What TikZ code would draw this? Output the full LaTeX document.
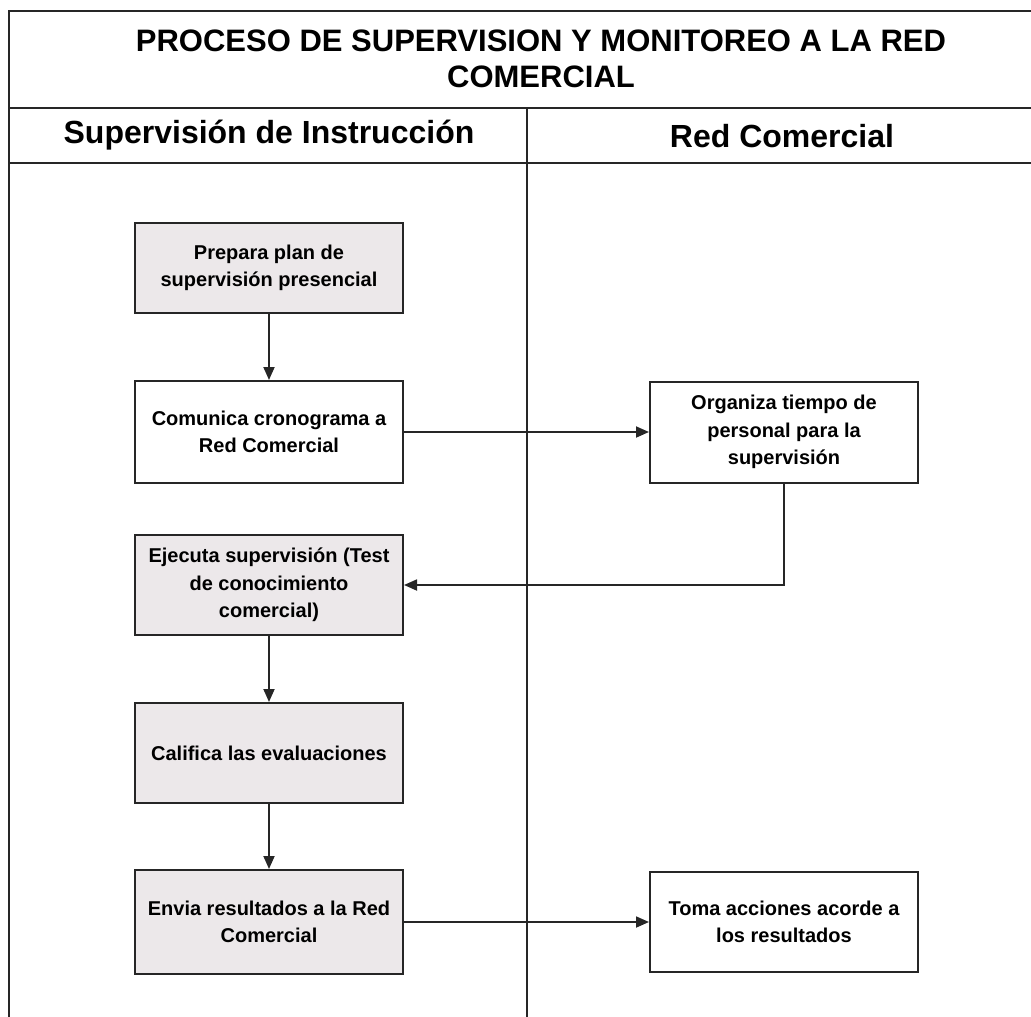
\documentclass[tikz,border=0pt]{standalone}
\usepackage{fontspec}
\setmainfont{Liberation Sans}
\usetikzlibrary{arrows.meta}
\definecolor{ink}{HTML}{262626}
\definecolor{boxgray}{HTML}{ECE8EA}
\tikzset{
  frame/.style={draw=ink, line width=1.8pt},
  stepbox/.style={draw=ink, line width=2pt, minimum width=268pt, align=center,
    font=\bfseries\fontsize{20}{27.5}\selectfont, inner sep=3pt},
  shaded/.style={stepbox, fill=boxgray},
  plain/.style={stepbox, fill=white},
  flow/.style={draw=ink, line width=1.8pt, -{Triangle[length=13pt,width=11pt]}},
  lanehead/.style={font=\bfseries\fontsize{32}{34}\selectfont},
}
\begin{document}
\begin{tikzpicture}[x=1pt, y=-1pt]
  \useasboundingbox (0,0) rectangle (1031,1017);
  % swimlane frame
  \draw[frame] (9,1017) -- (9,11) -- (1031,11);
  \draw[frame] (9,108) -- (1031,108);
  \draw[frame] (9,163) -- (1031,163);
  \draw[frame] (527,108) -- (527,1017);
  % headings
  \node (title) at (541,59) [align=center, font=\bfseries\fontsize{31}{36}\selectfont]
    {PROCESO DE SUPERVISION Y MONITOREO A LA RED\\COMERCIAL};
  \node (laneA) at (269,135) [lanehead] {Supervisión de Instrucción};
  \node (laneB) at (782,136) [lanehead] {Red Comercial};
  % process steps
  \node[shaded, minimum height=90pt]  (prep) at (269,268) {Prepara plan de\\supervisión presencial};
  \node[plain,  minimum height=102pt] (com)  at (269,432) {Comunica cronograma a\\Red Comercial};
  \node[plain,  minimum height=101pt] (org)  at (784,432) {Organiza tiempo de\\personal para la\\supervisión};
  \node[shaded, minimum height=100pt] (ejec) at (269,585) {Ejecuta supervisión (Test\\de conocimiento\\comercial)};
  \node[shaded, minimum height=100pt] (cal)  at (269,753) {Califica las evaluaciones};
  \node[shaded, minimum height=104pt] (env)  at (269,922) {Envia resultados a la Red\\Comercial};
  \node[plain,  minimum height=100pt] (toma) at (784,922) {Toma acciones acorde a\\los resultados};
  % connectors
  \draw[flow] (prep) -- (com);
  \draw[flow] (com) -- (org);
  \draw[flow] (org.south) |- (ejec.east);
  \draw[flow] (ejec) -- (cal);
  \draw[flow] (cal) -- (env);
  \draw[flow] (env) -- (toma);
\end{tikzpicture}
\end{document}
